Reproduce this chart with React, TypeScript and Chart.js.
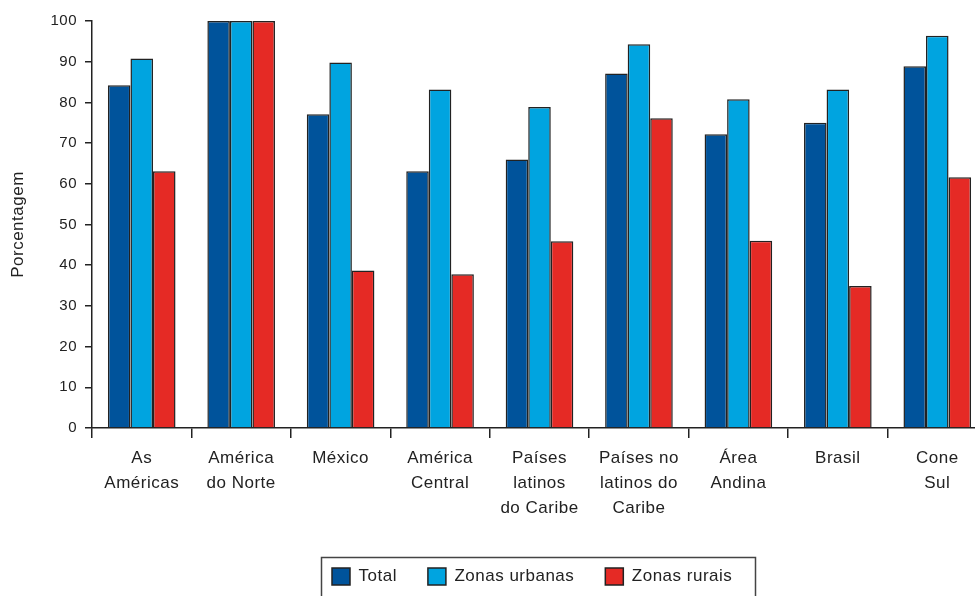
import React, { useEffect, useRef } from "react";
import { Chart, registerables } from "chart.js";

Chart.register(...registerables);

const categories: (string | string[])[] = [
  ["As", "Américas"],
  ["América", "do Norte"],
  ["México"],
  ["América", "Central"],
  ["Países", "latinos", "do Caribe"],
  ["Países no", "latinos do", "Caribe"],
  ["Área", "Andina"],
  ["Brasil"],
  ["Cone", "Sul"],
];

const totalValues = [84.2, 100, 77.1, 63.1, 66, 87.1, 72.2, 75, 88.9];
const urbanValues = [90.8, 100, 89.8, 83.2, 78.9, 94.3, 80.8, 83.2, 96.4];
const ruralValues = [63.1, 100, 38.7, 37.8, 45.9, 76.1, 46, 34.9, 61.6];

const seriesLabels = ["Total", "Zonas urbanas", "Zonas rurais"];
const seriesColors = ["#00539B", "#00A4E0", "#E52A25"];
const yTitle = "Porcentagem";

const FONT = "'Liberation Sans', Arial, sans-serif";
const INK = "#222222";

const spacingPlugin = {
  id: "spacing",
  beforeUpdate(chart: any) {
    chart.ctx.letterSpacing = "0.5px";
  },
  beforeDraw(chart: any) {
    chart.ctx.letterSpacing = "0.5px";
  },
  afterLayout(chart: any) {
    const lg = chart.legend;
    if (lg) {
      lg.left = 301;
      lg.right = 990;
      lg.top = 537;
      lg.bottom = 596;
    }
  },
  afterDraw(chart: any) {
    const ctx = chart.ctx;
    ctx.save();
    ctx.strokeStyle = "#444";
    ctx.lineWidth = 1.5;
    ctx.beginPath();
    ctx.moveTo(321.5, 600);
    ctx.lineTo(321.5, 557.5);
    ctx.lineTo(755.5, 557.5);
    ctx.lineTo(755.5, 600);
    ctx.stroke();
    ctx.restore();
  },
};

export default function App() {
  const ref = useRef<HTMLCanvasElement>(null);
  useEffect(() => {
    if (!ref.current) return;
    const data = [totalValues, urbanValues, ruralValues];
    const chart = new Chart(ref.current, {
      type: "bar",
      data: {
        labels: categories,
        datasets: data.map((d, i) => ({
          label: seriesLabels[i],
          data: d,
          backgroundColor: seriesColors[i],
          borderColor: INK,
          borderWidth: 1.5,
          categoryPercentage: 0.68,
          barPercentage: 1,
        })),
      },
      options: {
        responsive: false,
        animation: false,
        layout: { padding: { top: 21, right: 3, bottom: 0, left: 0 } },
        plugins: {
          tooltip: { enabled: false },
          legend: {
            position: "bottom",
            align: "start",
            maxHeight: 38,
            labels: {
              boxWidth: 18,
              boxHeight: 17,
              padding: 31,
              color: INK,
              font: { family: FONT, size: 17 },
            },
          },
        },
        scales: {
          x: {
            afterFit(scale: any) {
              scale.height = 130;
            },
            grid: {
              display: true,
              offset: true,
              drawOnChartArea: false,
              tickLength: 10,
              color: INK,
              lineWidth: 1.5,
            },
            border: { display: true, color: INK, width: 1.5 },
            ticks: {
              autoSkip: false,
              maxRotation: 0,
              padding: 8,
              color: INK,
              font: { family: FONT, size: 17, lineHeight: 1.47 },
            },
          },
          y: {
            min: 0,
            max: 100,
            afterFit(scale: any) {
              scale.width = 92;
            },
            grid: {
              display: true,
              drawOnChartArea: false,
              tickLength: 7,
              color: INK,
              lineWidth: 1.5,
            },
            border: { display: true, color: INK, width: 1.5 },
            ticks: {
              stepSize: 10,
              padding: 8,
              color: INK,
              font: { family: FONT, size: 15 },
            },
            title: {
              display: true,
              text: yTitle,
              color: INK,
              padding: { top: 8, bottom: 0 },
              font: { family: FONT, size: 17 },
            },
          },
        },
      },
      plugins: [spacingPlugin],
    });
    return () => chart.destroy();
  }, []);

  return (
    <div
      style={{
        position: "fixed",
        left: 0,
        top: 0,
        width: 975,
        height: 596,
        overflow: "hidden",
        background: "#fff",
      }}
    >
      <canvas ref={ref} width={990} height={596} style={{ display: "block" }} />
    </div>
  );
}
